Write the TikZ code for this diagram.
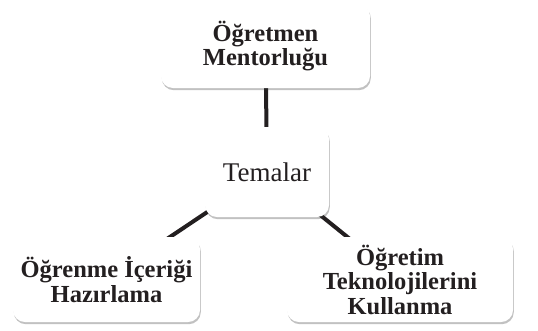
\documentclass[tikz,border=0pt]{standalone}
\usepackage{fontspec}
\setmainfont{Liberation Serif}
\usetikzlibrary{shadows,backgrounds}
\definecolor{ink}{HTML}{231F20}
\tikzset{
  theme/.style={draw=none, fill=white, rounded corners=12pt, inner sep=0pt, align=center, text=ink,
    drop shadow={shadow xshift=0.8pt, shadow yshift=-2.2pt, opacity=0.3, fill=black!80}},
  boldtxt/.style={font=\bfseries\fontsize{24.5}{24.5}\selectfont},
  link/.style={draw=ink, line width=4pt}
}
\begin{document}
\begin{tikzpicture}[x=1pt,y=-1pt]
\useasboundingbox (0,0) rectangle (538,330);
\node[theme, boldtxt, minimum width=209pt, minimum height=84pt] (top) at (265.5,46) {Öğretmen\\Mentorluğu};
\node[theme, font=\fontsize{27}{28}\selectfont, minimum width=124pt, minimum height=90pt] (mid) at (267,172) {Temalar};
\node[theme, boldtxt, minimum width=187pt, minimum height=85pt] (bl) at (106.5,279.5) {Öğrenme İçeriği\\Hazırlama};
\node[theme, boldtxt, minimum width=226pt, minimum height=85pt] (br) at (400,279.5) {Öğretim\\Teknolojilerini\\Kullanma};
\begin{pgfonlayer}{background}
\draw[link] (mid.center) -- (top.center);
\draw[link] (mid.center) -- (bl.center);
\draw[link] (mid.center) -- (br.center);
\end{pgfonlayer}
\end{tikzpicture}
\end{document}
